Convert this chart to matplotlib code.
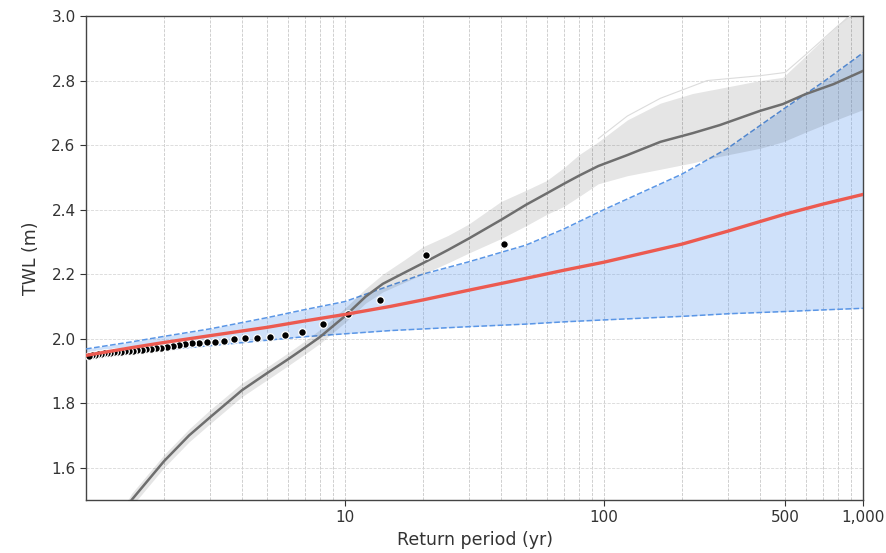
import matplotlib
matplotlib.use("Agg")
import matplotlib.pyplot as plt
from matplotlib.ticker import FixedLocator, FixedFormatter, LogLocator, NullFormatter

# Observed annual maxima (Weibull plotting positions, 40 years of record)
obs_period = [41.0, 20.5, 13.67, 10.25, 8.2, 6.83, 5.86, 5.13, 4.56, 4.1,
              3.73, 3.42, 3.15, 2.93, 2.73, 2.56, 2.41, 2.28, 2.16, 2.05,
              1.95, 1.86, 1.78, 1.71, 1.64, 1.58, 1.52, 1.46, 1.41, 1.37,
              1.32, 1.28, 1.24, 1.21, 1.17, 1.14, 1.11, 1.08, 1.05, 1.025]
obs_twl = [2.293, 2.259, 2.121, 2.077, 2.045, 2.020, 2.011, 2.004, 2.003, 2.002,
           1.998, 1.994, 1.991, 1.989, 1.987, 1.985, 1.983, 1.980, 1.977, 1.974,
           1.972, 1.970, 1.968, 1.967, 1.966, 1.964, 1.963, 1.962, 1.961, 1.960,
           1.958, 1.957, 1.956, 1.955, 1.954, 1.953, 1.951, 1.950, 1.949, 1.947]

# GEV fit: median return level and confidence bounds
fit_period = [1.0, 1.5, 2, 3, 5, 7, 10, 15, 20, 30, 50, 70, 100, 200, 300, 500, 700, 1000]
fit_mid = [1.948, 1.972, 1.988, 2.009, 2.035, 2.055, 2.075, 2.100, 2.120, 2.150,
           2.187, 2.212, 2.237, 2.293, 2.333, 2.386, 2.417, 2.447]
fit_hi = [1.968, 1.990, 2.007, 2.030, 2.065, 2.090, 2.115, 2.165, 2.200, 2.238,
          2.290, 2.340, 2.400, 2.510, 2.590, 2.715, 2.795, 2.886]
fit_lo = [1.940, 1.955, 1.965, 1.978, 1.995, 2.006, 2.015, 2.025, 2.030, 2.037,
          2.045, 2.052, 2.058, 2.069, 2.077, 2.084, 2.089, 2.094]

# Simulated ensemble: median curve and spread
sim_period = [1.4, 1.5, 2, 2.5, 3, 4, 5, 6, 7, 8, 10, 12, 14, 17, 20, 25, 30, 40,
              50, 60, 70, 80, 95, 123, 165, 220, 280, 400, 490, 600, 770, 1000]
sim_mid = [1.46, 1.50, 1.62, 1.70, 1.755, 1.84, 1.893, 1.935, 1.972, 2.005, 2.07,
           2.13, 2.17, 2.205, 2.234, 2.275, 2.31, 2.368, 2.415, 2.45, 2.48, 2.505,
           2.535, 2.569, 2.61, 2.637, 2.662, 2.706, 2.727, 2.758, 2.789, 2.83]
sim_lo = [1.44, 1.48, 1.60, 1.68, 1.735, 1.82, 1.872, 1.915, 1.952, 1.985, 2.05,
          2.11, 2.145, 2.175, 2.20, 2.235, 2.265, 2.31, 2.35, 2.385, 2.41, 2.44,
          2.48, 2.505, 2.525, 2.545, 2.565, 2.59, 2.61, 2.64, 2.675, 2.71]
sim_hi = [1.48, 1.52, 1.64, 1.72, 1.778, 1.862, 1.912, 1.955, 1.993, 2.028, 2.095,
          2.155, 2.20, 2.245, 2.285, 2.32, 2.355, 2.425, 2.46, 2.49, 2.53, 2.57,
          2.61, 2.678, 2.73, 2.76, 2.776, 2.80, 2.81, 2.876, 2.96, 3.05]
sim_member_period = [95, 123, 165, 250, 400, 500, 600, 800, 1000]
sim_member = [2.62, 2.69, 2.745, 2.80, 2.815, 2.825, 2.88, 2.97, 3.03]

xtick_vals = [10, 100, 500, 1000]
xtick_text = ["10", "100", "500", "1,000"]
ytick_vals = [1.6, 1.8, 2.0, 2.2, 2.4, 2.6, 2.8, 3.0]

fig = plt.figure(figsize=(8.87, 5.53), dpi=100)
ax = fig.add_axes([0.097, 0.096, 0.876, 0.875])
ax.set_xscale("log")

# confidence band of the fit
ax.fill_between(fit_period, fit_lo, fit_hi, color="#6aa2f0", alpha=0.32,
                linewidth=0, zorder=2)
ax.plot(fit_period, fit_hi, "--", color="#5a96e6", lw=1.1, zorder=3)
ax.plot(fit_period, fit_lo, "--", color="#5a96e6", lw=1.1, zorder=3)

# ensemble spread
ax.fill_between(sim_period, sim_lo, sim_hi, color="black", alpha=0.10,
                linewidth=0, zorder=3)
ax.plot(sim_member_period, sim_member, color="#dcdcdc", lw=0.8, zorder=3)
ax.plot(sim_period, sim_mid, color="#6e6e6e", lw=1.8, zorder=4)

# observations
ax.plot(obs_period, obs_twl, "o", color="black", markersize=5.5,
        markeredgecolor="white", markeredgewidth=0.9, zorder=5)

# fitted return level
ax.plot(fit_period, fit_mid, color="#ec5a50", lw=2.4, zorder=6)

ax.set_xlim(1, 1000)
ax.set_ylim(1.5, 3.0)

ax.xaxis.set_major_locator(FixedLocator(xtick_vals))
ax.xaxis.set_major_formatter(FixedFormatter(xtick_text))
ax.xaxis.set_minor_locator(LogLocator(base=10, subs=range(2, 10)))
ax.xaxis.set_minor_formatter(NullFormatter())
ax.set_yticks(ytick_vals)
ax.set_yticklabels([f"{v:.1f}" for v in ytick_vals])

ax.set_axisbelow(True)
ax.grid(True, which="both", axis="x", linestyle="--", color="#c8c8c8", lw=0.6)
ax.grid(True, which="major", axis="y", linestyle="--", color="#d8d8d8", lw=0.6)

ax.tick_params(axis="both", which="major", labelsize=11, colors="#333333",
               length=4, width=0.8)
ax.tick_params(axis="x", which="minor", length=0)
for s in ax.spines.values():
    s.set_color("#444444")
    s.set_linewidth(1.0)

ax.set_xlabel("Return period (yr)", fontsize=12.5, color="#333333", labelpad=4)
ax.set_ylabel("TWL (m)", fontsize=12.5, color="#333333", labelpad=8)

fig.savefig("out.png", dpi=100)
